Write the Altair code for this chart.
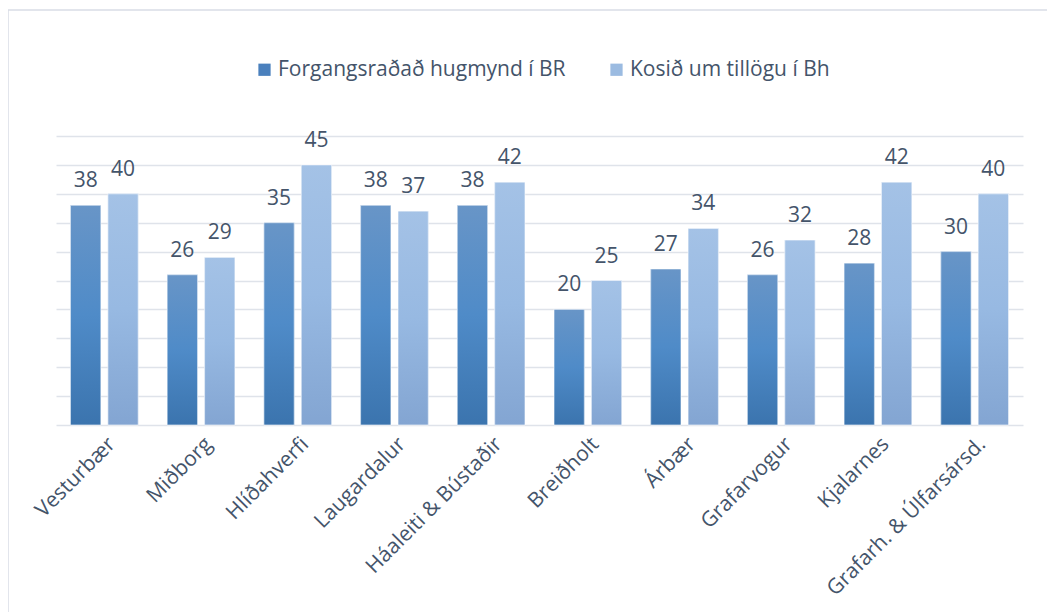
import altair as alt
import pandas as pd

categories = ["Vesturbær", "Miðborg", "Hlíðahverfi", "Laugardalur", "Háaleiti & Bústaðir",
              "Breiðholt", "Árbær", "Grafarvogur", "Kjalarnes", "Grafarh. & Úlfarsársd."]
series_names = ["Forgangsraðað hugmynd  í BR", "Kosið um tillögu í Bh"]
s1_values = [38, 26, 35, 38, 38, 20, 27, 26, 28, 30]
s2_values = [40, 29, 45, 37, 42, 25, 34, 32, 42, 40]

rows = []
for c, a, b in zip(categories, s1_values, s2_values):
    rows.append({"cat": c, "series": series_names[0], "value": a})
    rows.append({"cat": c, "series": series_names[1], "value": b})
df = pd.DataFrame(rows)

FONT = "Open Sans"
TXT = "#44546a"

x_enc = alt.X("cat:N", sort=categories, title=None,
              scale=alt.Scale(paddingInner=0.3, paddingOuter=0.15),
              axis=alt.Axis(labelAngle=-45, labelFontSize=21, labelFont=FONT,
                            labelColor=TXT, ticks=False, domain=False, labelPadding=8,
                            labelLimit=500))
xo_enc = alt.XOffset("series:N", sort=series_names,
                     scale=alt.Scale(domain=series_names, paddingInner=0.19, paddingOuter=0))
y_enc = alt.Y("value:Q", title=None,
              scale=alt.Scale(domain=[0, 50], nice=False),
              axis=alt.Axis(values=list(range(0, 51, 5)), labels=False, ticks=False,
                            domain=False, grid=True, gridColor="#dfe3ea", gridWidth=1.5))

base = alt.Chart(df)

legend_bars = base.mark_bar().encode(
    x=x_enc, xOffset=xo_enc, y=y_enc,
    color=alt.Color("series:N", sort=series_names,
                    scale=alt.Scale(domain=series_names, range=["#4a80bd", "#9bbbe1"]),
                    legend=alt.Legend(orient="none", direction="horizontal", columns=2,
                                      legendX=198, legendY=-77, title=None,
                                      symbolType="square", symbolSize=150,
                                      labelFont=FONT, labelFontSize=21, labelColor=TXT,
                                      labelLimit=500,
                                      columnPadding=34, labelOffset=3, symbolStrokeWidth=0)),
)

grad1 = alt.Gradient(gradient="linear", x1=0, x2=0, y1=0, y2=1,
                     stops=[alt.GradientStop(color="#6895c7", offset=0),
                            alt.GradientStop(color="#4f8bc8", offset=0.5),
                            alt.GradientStop(color="#3b74ae", offset=1)])
grad2 = alt.Gradient(gradient="linear", x1=0, x2=0, y1=0, y2=1,
                     stops=[alt.GradientStop(color="#a4c2e6", offset=0),
                            alt.GradientStop(color="#97b9e2", offset=0.5),
                            alt.GradientStop(color="#83a5d2", offset=1)])

bars1 = base.transform_filter(alt.datum.series == series_names[0]).mark_bar(
    fill=grad1, stroke="#ffffff", strokeWidth=1, strokeOpacity=0.6
).encode(x=x_enc, xOffset=xo_enc, y=y_enc)
bars2 = base.transform_filter(alt.datum.series == series_names[1]).mark_bar(
    fill=grad2, stroke="#ffffff", strokeWidth=1, strokeOpacity=0.6
).encode(x=x_enc, xOffset=xo_enc, y=y_enc)

labels = base.mark_text(baseline="alphabetic", dy=-18, fontSize=21, font=FONT, color=TXT).encode(
    x=x_enc, xOffset=xo_enc, y=y_enc, text=alt.Text("value:Q")
)

frame = alt.Chart(pd.DataFrame({"k": [0]})).mark_rect(
    fill=None, stroke="#d9dde6", strokeWidth=1.5, clip=False
).encode(x=alt.value(-48), x2=alt.value(1100), y=alt.value(-126), y2=alt.value(700))

chart = alt.layer(frame, legend_bars, bars1, bars2, labels).properties(
    width=967, height=289,
    background="white",
    autosize=alt.AutoSizeParams(type="none"),
    padding={"left": 48, "top": 128, "right": 24, "bottom": 187},
).configure_view(strokeWidth=0, stroke=None)

chart.save("out.html", embed_options={"renderer": "svg", "actions": False})
